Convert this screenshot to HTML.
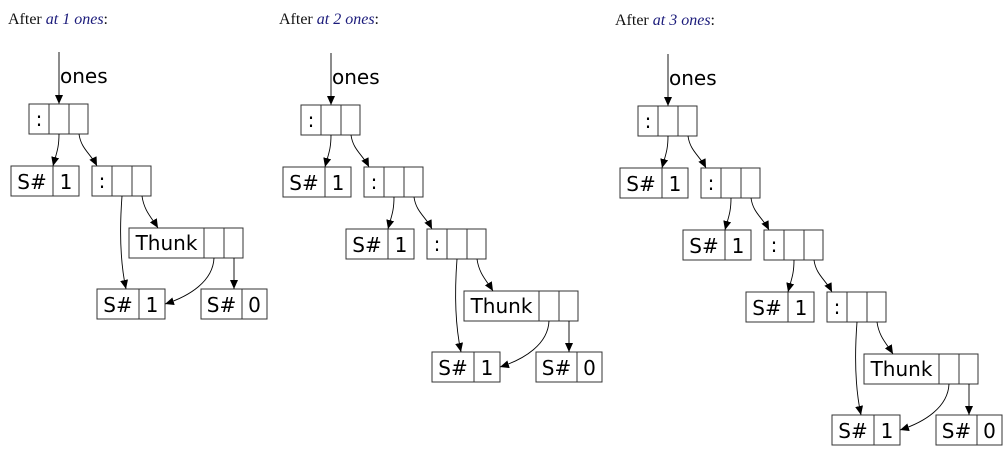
<!DOCTYPE html>
<html><head><meta charset="utf-8">
<style>
html,body{margin:0;padding:0;background:#fff;width:1008px;height:454px;overflow:hidden}
svg{display:block}
.t{font-family:"Liberation Serif",serif;font-size:16px;fill:#111}
.i{font-style:italic;fill:#1a1a7a}
.n{font-family:"DejaVu Sans",sans-serif;font-size:20px;fill:#000}
.o{font-family:"DejaVu Sans",sans-serif;font-size:20px;fill:#000}
rect,line.b{fill:#fff;stroke:#333;stroke-width:1}
path.e{fill:none;stroke:#000;stroke-width:0.9;marker-end:url(#ah)}
</style></head><body>
<svg width="1008" height="454" viewBox="0 0 1008 454" xmlns="http://www.w3.org/2000/svg">
<defs>
<marker id="ah" markerWidth="10" markerHeight="10" refX="9" refY="4" orient="auto" markerUnits="userSpaceOnUse">
<path d="M0,0 L9,4 L0,8 z" fill="#000"/>
</marker>
</defs>

<text class="t" x="8" y="24">After <tspan class="i">at 1 ones</tspan>:</text>
<text class="t" x="279" y="24">After <tspan class="i">at 2 ones</tspan>:</text>
<text class="t" x="615" y="25">After <tspan class="i">at 3 ones</tspan>:</text>

<path class="e" d="M59,52 L59,104"/><text class="o" x="60" y="83">ones</text>
<path class="e" d="M331,53 L331,105"/><text class="o" x="332" y="84">ones</text>
<path class="e" d="M668,54 L668,106"/><text class="o" x="669" y="85">ones</text>

<g transform="translate(29,104)">
<rect x="0" y="0" width="59" height="30"/><line class="b" x1="20" y1="0" x2="20" y2="30"/><line class="b" x1="40" y1="0" x2="40" y2="30"/>
<text class="n" x="10" y="22" text-anchor="middle">:</text>
<rect x="-18" y="62" width="68" height="30"/><line class="b" x1="24" y1="62" x2="24" y2="92"/>
<text class="n" x="3" y="85" text-anchor="middle">S#</text><text class="n" x="37" y="85" text-anchor="middle">1</text>
<path class="e" d="M30,30 C30,45 27,50 24,62"/>
<path class="e" d="M50,30 C52,45 62,50 68,62"/>
</g>
<g transform="translate(92,166)">
<rect x="0" y="0" width="59" height="30"/><line class="b" x1="20" y1="0" x2="20" y2="30"/><line class="b" x1="40" y1="0" x2="40" y2="30"/>
<text class="n" x="10" y="22" text-anchor="middle">:</text>
<rect x="37" y="62" width="114" height="30"/><line class="b" x1="112" y1="62" x2="112" y2="92"/><line class="b" x1="132" y1="62" x2="132" y2="92"/>
<text class="n" x="74.5" y="84" text-anchor="middle">Thunk</text>
<rect x="5" y="123" width="68" height="30"/><line class="b" x1="47" y1="123" x2="47" y2="153"/>
<text class="n" x="26" y="146" text-anchor="middle">S#</text><text class="n" x="60" y="146" text-anchor="middle">1</text>
<rect x="109" y="123" width="66" height="30"/><line class="b" x1="150" y1="123" x2="150" y2="153"/>
<text class="n" x="129.5" y="146" text-anchor="middle">S#</text><text class="n" x="162.5" y="146" text-anchor="middle">0</text>
<path class="e" d="M30,30 C27,70 29,100 34,123"/>
<path class="e" d="M50,30 C52,45 60,52 66,62"/>
<path class="e" d="M122,92 C121,115 98,130 73,138"/>
<path class="e" d="M142,92 L142,123"/>
</g>

<g transform="translate(301,105)">
<rect x="0" y="0" width="59" height="30"/><line class="b" x1="20" y1="0" x2="20" y2="30"/><line class="b" x1="40" y1="0" x2="40" y2="30"/>
<text class="n" x="10" y="22" text-anchor="middle">:</text>
<rect x="-18" y="62" width="68" height="30"/><line class="b" x1="24" y1="62" x2="24" y2="92"/>
<text class="n" x="3" y="85" text-anchor="middle">S#</text><text class="n" x="37" y="85" text-anchor="middle">1</text>
<path class="e" d="M30,30 C30,45 27,50 24,62"/>
<path class="e" d="M50,30 C52,45 62,50 68,62"/>
</g>
<g transform="translate(364,167)">
<rect x="0" y="0" width="59" height="30"/><line class="b" x1="20" y1="0" x2="20" y2="30"/><line class="b" x1="40" y1="0" x2="40" y2="30"/>
<text class="n" x="10" y="22" text-anchor="middle">:</text>
<rect x="-18" y="62" width="68" height="30"/><line class="b" x1="24" y1="62" x2="24" y2="92"/>
<text class="n" x="3" y="85" text-anchor="middle">S#</text><text class="n" x="37" y="85" text-anchor="middle">1</text>
<path class="e" d="M30,30 C30,45 27,50 24,62"/>
<path class="e" d="M50,30 C52,45 62,50 68,62"/>
</g>
<g transform="translate(427,229)">
<rect x="0" y="0" width="59" height="30"/><line class="b" x1="20" y1="0" x2="20" y2="30"/><line class="b" x1="40" y1="0" x2="40" y2="30"/>
<text class="n" x="10" y="22" text-anchor="middle">:</text>
<rect x="37" y="62" width="114" height="30"/><line class="b" x1="112" y1="62" x2="112" y2="92"/><line class="b" x1="132" y1="62" x2="132" y2="92"/>
<text class="n" x="74.5" y="84" text-anchor="middle">Thunk</text>
<rect x="5" y="123" width="68" height="30"/><line class="b" x1="47" y1="123" x2="47" y2="153"/>
<text class="n" x="26" y="146" text-anchor="middle">S#</text><text class="n" x="60" y="146" text-anchor="middle">1</text>
<rect x="109" y="123" width="66" height="30"/><line class="b" x1="150" y1="123" x2="150" y2="153"/>
<text class="n" x="129.5" y="146" text-anchor="middle">S#</text><text class="n" x="162.5" y="146" text-anchor="middle">0</text>
<path class="e" d="M30,30 C27,70 29,100 34,123"/>
<path class="e" d="M50,30 C52,45 60,52 66,62"/>
<path class="e" d="M122,92 C121,115 98,130 73,138"/>
<path class="e" d="M142,92 L142,123"/>
</g>

<g transform="translate(638,106)">
<rect x="0" y="0" width="59" height="30"/><line class="b" x1="20" y1="0" x2="20" y2="30"/><line class="b" x1="40" y1="0" x2="40" y2="30"/>
<text class="n" x="10" y="22" text-anchor="middle">:</text>
<rect x="-18" y="62" width="68" height="30"/><line class="b" x1="24" y1="62" x2="24" y2="92"/>
<text class="n" x="3" y="85" text-anchor="middle">S#</text><text class="n" x="37" y="85" text-anchor="middle">1</text>
<path class="e" d="M30,30 C30,45 27,50 24,62"/>
<path class="e" d="M50,30 C52,45 62,50 68,62"/>
</g>
<g transform="translate(701,168)">
<rect x="0" y="0" width="59" height="30"/><line class="b" x1="20" y1="0" x2="20" y2="30"/><line class="b" x1="40" y1="0" x2="40" y2="30"/>
<text class="n" x="10" y="22" text-anchor="middle">:</text>
<rect x="-18" y="62" width="68" height="30"/><line class="b" x1="24" y1="62" x2="24" y2="92"/>
<text class="n" x="3" y="85" text-anchor="middle">S#</text><text class="n" x="37" y="85" text-anchor="middle">1</text>
<path class="e" d="M30,30 C30,45 27,50 24,62"/>
<path class="e" d="M50,30 C52,45 62,50 68,62"/>
</g>
<g transform="translate(764,230)">
<rect x="0" y="0" width="59" height="30"/><line class="b" x1="20" y1="0" x2="20" y2="30"/><line class="b" x1="40" y1="0" x2="40" y2="30"/>
<text class="n" x="10" y="22" text-anchor="middle">:</text>
<rect x="-18" y="62" width="68" height="30"/><line class="b" x1="24" y1="62" x2="24" y2="92"/>
<text class="n" x="3" y="85" text-anchor="middle">S#</text><text class="n" x="37" y="85" text-anchor="middle">1</text>
<path class="e" d="M30,30 C30,45 27,50 24,62"/>
<path class="e" d="M50,30 C52,45 62,50 68,62"/>
</g>
<g transform="translate(827,292)">
<rect x="0" y="0" width="59" height="30"/><line class="b" x1="20" y1="0" x2="20" y2="30"/><line class="b" x1="40" y1="0" x2="40" y2="30"/>
<text class="n" x="10" y="22" text-anchor="middle">:</text>
<rect x="37" y="62" width="114" height="30"/><line class="b" x1="112" y1="62" x2="112" y2="92"/><line class="b" x1="132" y1="62" x2="132" y2="92"/>
<text class="n" x="74.5" y="84" text-anchor="middle">Thunk</text>
<rect x="5" y="123" width="68" height="30"/><line class="b" x1="47" y1="123" x2="47" y2="153"/>
<text class="n" x="26" y="146" text-anchor="middle">S#</text><text class="n" x="60" y="146" text-anchor="middle">1</text>
<rect x="109" y="123" width="66" height="30"/><line class="b" x1="150" y1="123" x2="150" y2="153"/>
<text class="n" x="129.5" y="146" text-anchor="middle">S#</text><text class="n" x="162.5" y="146" text-anchor="middle">0</text>
<path class="e" d="M30,30 C27,70 29,100 34,123"/>
<path class="e" d="M50,30 C52,45 60,52 66,62"/>
<path class="e" d="M122,92 C121,115 98,130 73,138"/>
<path class="e" d="M142,92 L142,123"/>
</g>
</svg>
</body></html>
